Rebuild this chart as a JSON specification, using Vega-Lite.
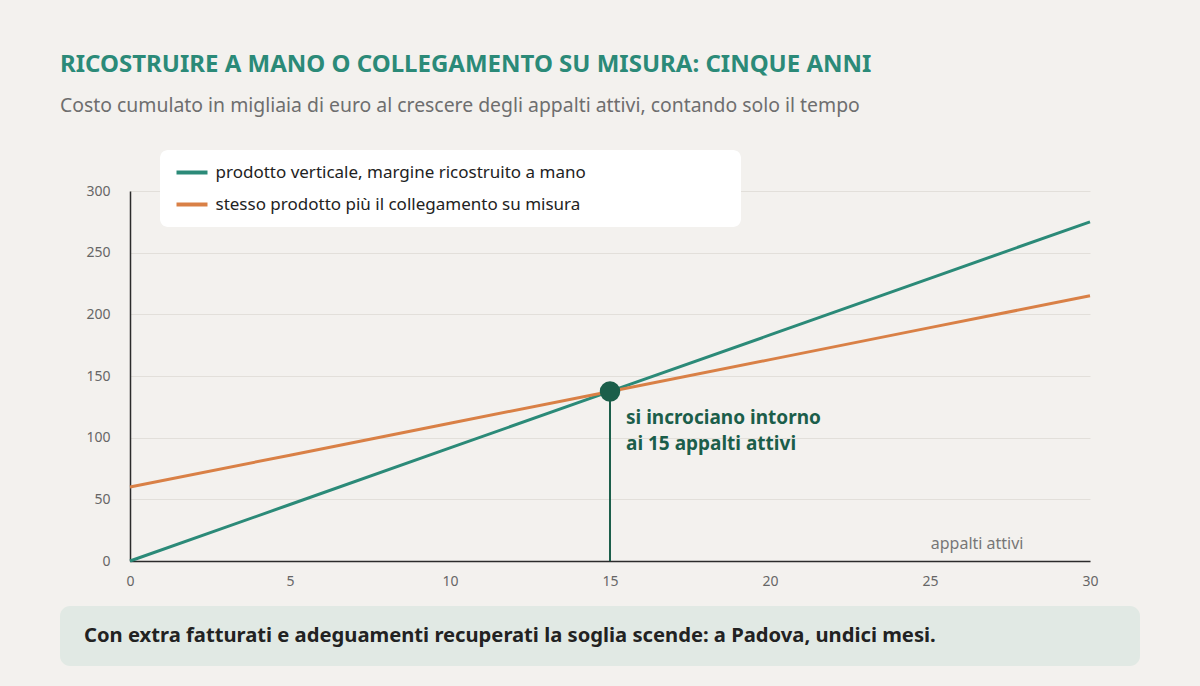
{
  "$schema": "https://vega.github.io/schema/vega-lite/v6.json",
  "background": "#f3f1ee",
  "padding": {"left": 60, "top": 52, "right": 60, "bottom": 20},
  "title": {
    "text": "RICOSTRUIRE A MANO O COLLEGAMENTO SU MISURA: CINQUE ANNI",
    "subtitle": "Costo cumulato in migliaia di euro al crescere degli appalti attivi, contando solo il tempo",
    "anchor": "start",
    "fontSize": 24,
    "fontWeight": "bold",
    "color": "#2b8a78",
    "subtitleFontSize": 19.4,
    "subtitleColor": "#6e6e6e",
    "subtitlePadding": 20,
    "offset": 35
  },
  "resolve": {"legend": {"color": "independent"}},
  "spacing": 18,
  "vconcat": [
    {
      "width": 1080,
      "height": 370,
      "layer": [
        {
          "data": {
            "values": [
              {"serie": "prodotto verticale, margine ricostruito a mano", "appalti": 0, "costo": 0},
              {"serie": "prodotto verticale, margine ricostruito a mano", "appalti": 5, "costo": 45.8},
              {"serie": "prodotto verticale, margine ricostruito a mano", "appalti": 10, "costo": 91.7},
              {"serie": "prodotto verticale, margine ricostruito a mano", "appalti": 15, "costo": 137.5},
              {"serie": "prodotto verticale, margine ricostruito a mano", "appalti": 20, "costo": 183.3},
              {"serie": "prodotto verticale, margine ricostruito a mano", "appalti": 25, "costo": 229.2},
              {"serie": "prodotto verticale, margine ricostruito a mano", "appalti": 30, "costo": 275},
              {"serie": "stesso prodotto più il collegamento su misura", "appalti": 0, "costo": 60},
              {"serie": "stesso prodotto più il collegamento su misura", "appalti": 5, "costo": 85.8},
              {"serie": "stesso prodotto più il collegamento su misura", "appalti": 10, "costo": 111.7},
              {"serie": "stesso prodotto più il collegamento su misura", "appalti": 15, "costo": 137.5},
              {"serie": "stesso prodotto più il collegamento su misura", "appalti": 20, "costo": 163.3},
              {"serie": "stesso prodotto più il collegamento su misura", "appalti": 25, "costo": 189.2},
              {"serie": "stesso prodotto più il collegamento su misura", "appalti": 30, "costo": 215}
            ]
          },
          "mark": {"type": "line", "strokeWidth": 3},
          "encoding": {
            "x": {
              "field": "appalti",
              "type": "quantitative",
              "scale": {"domain": [0, 30], "nice": false, "range": [70, 1030]},
              "axis": {
                "values": [0, 5, 10, 15, 20, 25, 30],
                "grid": false,
                "labelFlush": false,
                "title": "appalti attivi",
                "titleX": 963,
                "titleY": -13,
                "titleAlign": "right",
                "titleBaseline": "alphabetic",
                "titleFontSize": 16,
                "titleFontWeight": "normal",
                "titleColor": "#777777",
                "labelPadding": 13
              }
            },
            "y": {
              "field": "costo",
              "type": "quantitative",
              "scale": {"domain": [0, 300], "nice": false},
              "axis": {
                "values": [0, 50, 100, 150, 200, 250, 300],
                "title": null,
                "grid": true,
                "labelFlush": false,
                "labelPadding": 20,
                "offset": -70
              }
            },
            "color": {
              "field": "serie",
              "type": "nominal",
              "scale": {
                "domain": ["prodotto verticale, margine ricostruito a mano", "stesso prodotto più il collegamento su misura"],
                "range": ["#2b8a78", "#d98046"]
              },
              "legend": {
                "orient": "none",
                "legendX": 100,
                "legendY": -41,
                "direction": "vertical",
                "title": "\u00a0",
                "titleOrient": "right",
                "titlePadding": 141,
                "fillColor": "#ffffff",
                "cornerRadius": 8,
                "padding": 14,
                "symbolType": "M0,0H12.4",
                "symbolSize": 25,
                "symbolStrokeWidth": 4,
                "symbolOffset": -6,
                "labelOffset": 30.5,
                "labelFontSize": 17,
                "labelLimit": 600,
                "labelColor": "#222222",
                "rowPadding": 14
              }
            }
          }
        },
        {
          "data": {"values": [{"appalti": 15, "base": 0, "costo": 137.5}]},
          "mark": {"type": "rule", "strokeWidth": 2, "color": "#1b5e4a"},
          "encoding": {
            "x": {"field": "appalti", "type": "quantitative"},
            "y": {"field": "costo", "type": "quantitative"},
            "y2": {"field": "base"}
          }
        },
        {
          "data": {"values": [{"appalti": 15, "costo": 137.5}]},
          "mark": {"type": "circle", "size": 420, "color": "#1b5e4a", "opacity": 1},
          "encoding": {
            "x": {"field": "appalti", "type": "quantitative"},
            "y": {"field": "costo", "type": "quantitative"}
          }
        },
        {
          "data": {"values": [{"appalti": 15.5, "costo": 111, "testo": ["si incrociano intorno", "ai 15 appalti attivi"]}]},
          "mark": {
            "type": "text",
            "align": "left",
            "baseline": "alphabetic",
            "fontSize": 19,
            "fontWeight": "bold",
            "lineHeight": 26,
            "color": "#1b5e4a"
          },
          "encoding": {
            "x": {"field": "appalti", "type": "quantitative"},
            "y": {"field": "costo", "type": "quantitative"},
            "text": {"field": "testo"}
          }
        }
      ]
    },
    {
      "width": 1080,
      "height": 60,
      "view": {"fill": "#e1e9e4", "stroke": null, "cornerRadius": 10},
      "data": {"values": [{"nota": "Con extra fatturati e adeguamenti recuperati la soglia scende: a Padova, undici mesi."}]},
      "mark": {
        "type": "text",
        "align": "left",
        "baseline": "middle",
        "dx": -516,
        "fontSize": 20.2,
        "fontWeight": "bold",
        "color": "#222222"
      },
      "encoding": {
        "text": {"field": "nota"}
      }
    }
  ],
  "config": {
    "font": "Noto Sans",
    "view": {"stroke": null},
    "axis": {
      "domainColor": "#2b2b2b",
      "domainWidth": 1.5,
      "ticks": false,
      "tickSize": 0,
      "gridColor": "#e2dfda",
      "gridWidth": 1,
      "labelColor": "#666666",
      "labelFontSize": 14
    }
  }
}
